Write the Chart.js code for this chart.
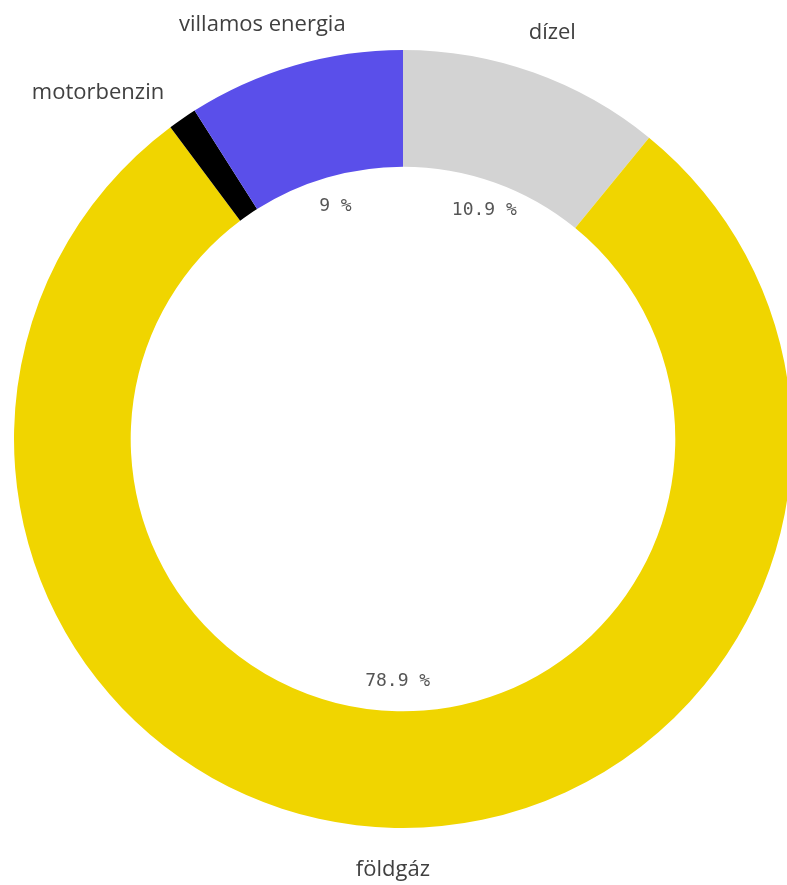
<!DOCTYPE html>
<html>
<head>
<meta charset="utf-8">
<script src="https://cdn.jsdelivr.net/npm/chart.js@4/dist/chart.umd.min.js"></script>
<style>
html,body{margin:0;padding:0;background:#fff;overflow:hidden;width:787px;height:885px;}
#wrap{position:absolute;left:0;top:0;width:810px;height:885px;}
</style>
</head>
<body>
<div id="wrap"><canvas id="c" width="810" height="885"></canvas></div>
<script>
const categories = ['dízel', 'földgáz', 'motorbenzin', 'villamos energia'];
const shares = [10.9, 78.9, 1.2, 9.0];
const colors = ['#d3d3d3', '#f0d500', '#000000', '#5a4fea'];

const labelPlugin = {
  id: 'ringLabels',
  afterDatasetsDraw(chart) {
    const ctx = chart.ctx;
    const meta = chart.getDatasetMeta(0);
    const data = chart.data.datasets[0].data;
    meta.data.forEach((arc, i) => {
      const p = arc.getProps(['x','y','startAngle','endAngle','outerRadius','innerRadius'], true);
      const mid = (p.startAngle + p.endAngle) / 2;
      const c = Math.cos(mid), s = Math.sin(mid);
      // outer category label
      const r = p.outerRadius + 32;
      const ax = p.x + r * c, ay = p.y + r * s;
      ctx.save();
      ctx.font = '22px "Open Sans", sans-serif';
      ctx.fillStyle = '#404040';
      ctx.textBaseline = 'middle';
      ctx.textAlign = 'left';
      const w = ctx.measureText(chart.data.labels[i]).width;
      const h = 20;
      let frac;
      if (Math.abs(c) > 0.5) frac = c > 0 ? 0 : 1;
      else frac = (1 - c) / 2;
      let y = ay;
      if (Math.abs(c) <= 0.5) y += s * h / 2;
      ctx.fillText(chart.data.labels[i], ax - frac * w, y);
      // inner percent label
      if (data[i] >= 2) {
        const ri = p.innerRadius - 30;
        ctx.font = '18px "DejaVu Sans Mono", monospace';
        ctx.fillStyle = '#555555';
        ctx.textAlign = 'center';
        ctx.fillText(data[i] + ' %', p.x + ri * c, p.y + ri * s);
      }
      ctx.restore();
    });
  }
};

new Chart(document.getElementById('c'), {
  type: 'doughnut',
  data: {
    labels: categories,
    datasets: [{
      data: shares,
      backgroundColor: colors,
      borderWidth: 0
    }]
  },
  options: {
    responsive: false,
    animation: false,
    cutout: '70%',
    layout: { padding: { top: 50, bottom: 57, left: 0, right: 4 } },
    plugins: { legend: { display: false }, tooltip: { enabled: false } }
  },
  plugins: [labelPlugin]
});
</script>
</body>
</html>
